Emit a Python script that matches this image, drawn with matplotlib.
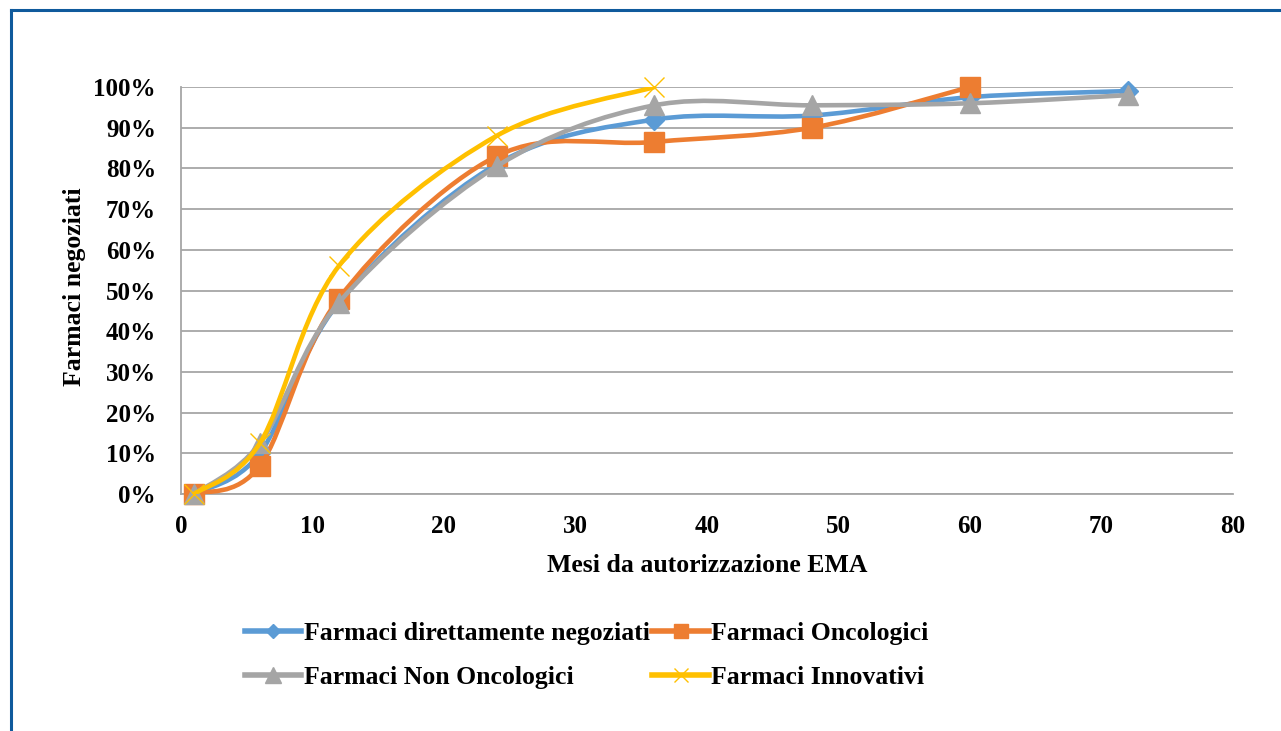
import numpy as np
import matplotlib
matplotlib.use("Agg")
import matplotlib.pyplot as plt
from matplotlib.path import Path
from matplotlib.patches import PathPatch
from matplotlib.lines import Line2D
from matplotlib.ticker import PercentFormatter

# --- data ---
mesi = [1, 6, 12, 24, 36, 48, 60, 72]
diretti = [0, 10, 47, 81, 92, 93, 97.5, 99]
oncologici = [0, 7, 48, 83, 86.5, 90, 100]
non_oncologici = [0, 12.5, 47, 80.5, 95.5, 95.5, 96, 98]
innovativi = [0, 12.5, 56, 88, 100]

series = [
    ("Farmaci direttamente negoziati", diretti, "#5B9BD5", "D", 10, 1),
    ("Farmaci Oncologici", oncologici, "#ED7D31", "s", 14, 1),
    ("Farmaci Non Oncologici", non_oncologici, "#A5A5A5", "^", 15, 1),
    ("Farmaci Innovativi", innovativi, "#FFC000", "x", 14, 1),
]

FONT = "Liberation Serif"
GRID_COL = "#A6A6A6"


def smooth_path(xs, ys):
    # Excel-like smoothed line: cubic Bezier, Catmull-Rom control points
    pts = np.column_stack([xs, ys]).astype(float)
    verts = [pts[0]]
    codes = [Path.MOVETO]
    n = len(pts)
    for i in range(n - 1):
        p0 = pts[i - 1] if i > 0 else pts[i]
        p1 = pts[i]
        p2 = pts[i + 1]
        p3 = pts[i + 2] if i + 2 < n else pts[i + 1]
        c1 = p1 + (p2 - p0) / 6.0
        c2 = p2 - (p3 - p1) / 6.0
        verts += [c1, c2, p2]
        codes += [Path.CURVE4] * 3
    return Path(verts, codes)


fig = plt.figure(figsize=(12.81, 7.31), dpi=100)
ax = fig.add_axes([181 / 1281, 1 - 494 / 731, 1052 / 1281, 407 / 731])

handles = []
for k, (name, vals, col, mk, ms, mew) in enumerate(series):
    xs = mesi[:len(vals)]
    z = 3 + 2 * k
    ax.add_patch(PathPatch(smooth_path(xs, vals), facecolor="none", edgecolor=col,
                           lw=3.3, capstyle="round", joinstyle="round", zorder=z))
    ax.plot(xs, vals, linestyle="none", marker=mk, markersize=ms, color=col,
            markeredgecolor=col, markeredgewidth=mew, zorder=z + 1, clip_on=False)
    handles.append(Line2D([], [], color=col, lw=4, marker=mk,
                          markersize=ms * 0.75, markeredgewidth=mew, label=name))

ax.set_xlim(0, 80)
ax.set_ylim(0, 100)
ax.set_xticks(range(0, 81, 10))
ax.set_yticks(range(0, 101, 10))
ax.yaxis.set_major_formatter(PercentFormatter(decimals=0))
ax.grid(axis="y", color=GRID_COL, lw=1.3, zorder=0)
ax.set_axisbelow(True)
for s in ["top", "right"]:
    ax.spines[s].set_visible(False)
for s in ["left", "bottom"]:
    ax.spines[s].set_color(GRID_COL)
    ax.spines[s].set_linewidth(1.3)
ax.tick_params(length=0)
ax.tick_params(axis="y", pad=18)
ax.tick_params(axis="x", pad=15)
for lab in ax.get_xticklabels() + ax.get_yticklabels():
    lab.set_fontfamily(FONT)
    lab.set_fontweight("bold")
    lab.set_fontsize(18)

ax.set_xlabel("Mesi da autorizzazione EMA", fontfamily=FONT, fontweight="bold", fontsize=18.5)
ax.set_ylabel("Farmaci negoziati", fontfamily=FONT, fontweight="bold", fontsize=18.5)
ax.xaxis.set_label_coords(0.5, -0.148)
ax.yaxis.set_label_coords(-0.090, 0.51)

# column-first fill: [blue, gray] | [orange, yellow]
order = [0, 2, 1, 3]
fig.legend([handles[i] for i in order], [handles[i].get_label() for i in order],
           ncol=2, loc="center", bbox_to_anchor=(0.458, 1 - 655.5 / 731), frameon=False,
           prop={"family": FONT, "weight": "bold", "size": 18.5},
           handlelength=2.2, handletextpad=0.1, columnspacing=0.1,
           labelspacing=0.8, borderpad=0)

# blue frame (top and left edges visible)
fig.add_artist(Line2D([10.5 / 1281, 10.5 / 1281], [0, 1 - 9.5 / 731], color="#0F5A9C", lw=2.2,
                      transform=fig.transFigure))
fig.add_artist(Line2D([10.5 / 1281, 1], [1 - 9.5 / 731, 1 - 9.5 / 731], color="#0F5A9C", lw=2.2,
                      transform=fig.transFigure))

fig.savefig("out.png", dpi=100)
